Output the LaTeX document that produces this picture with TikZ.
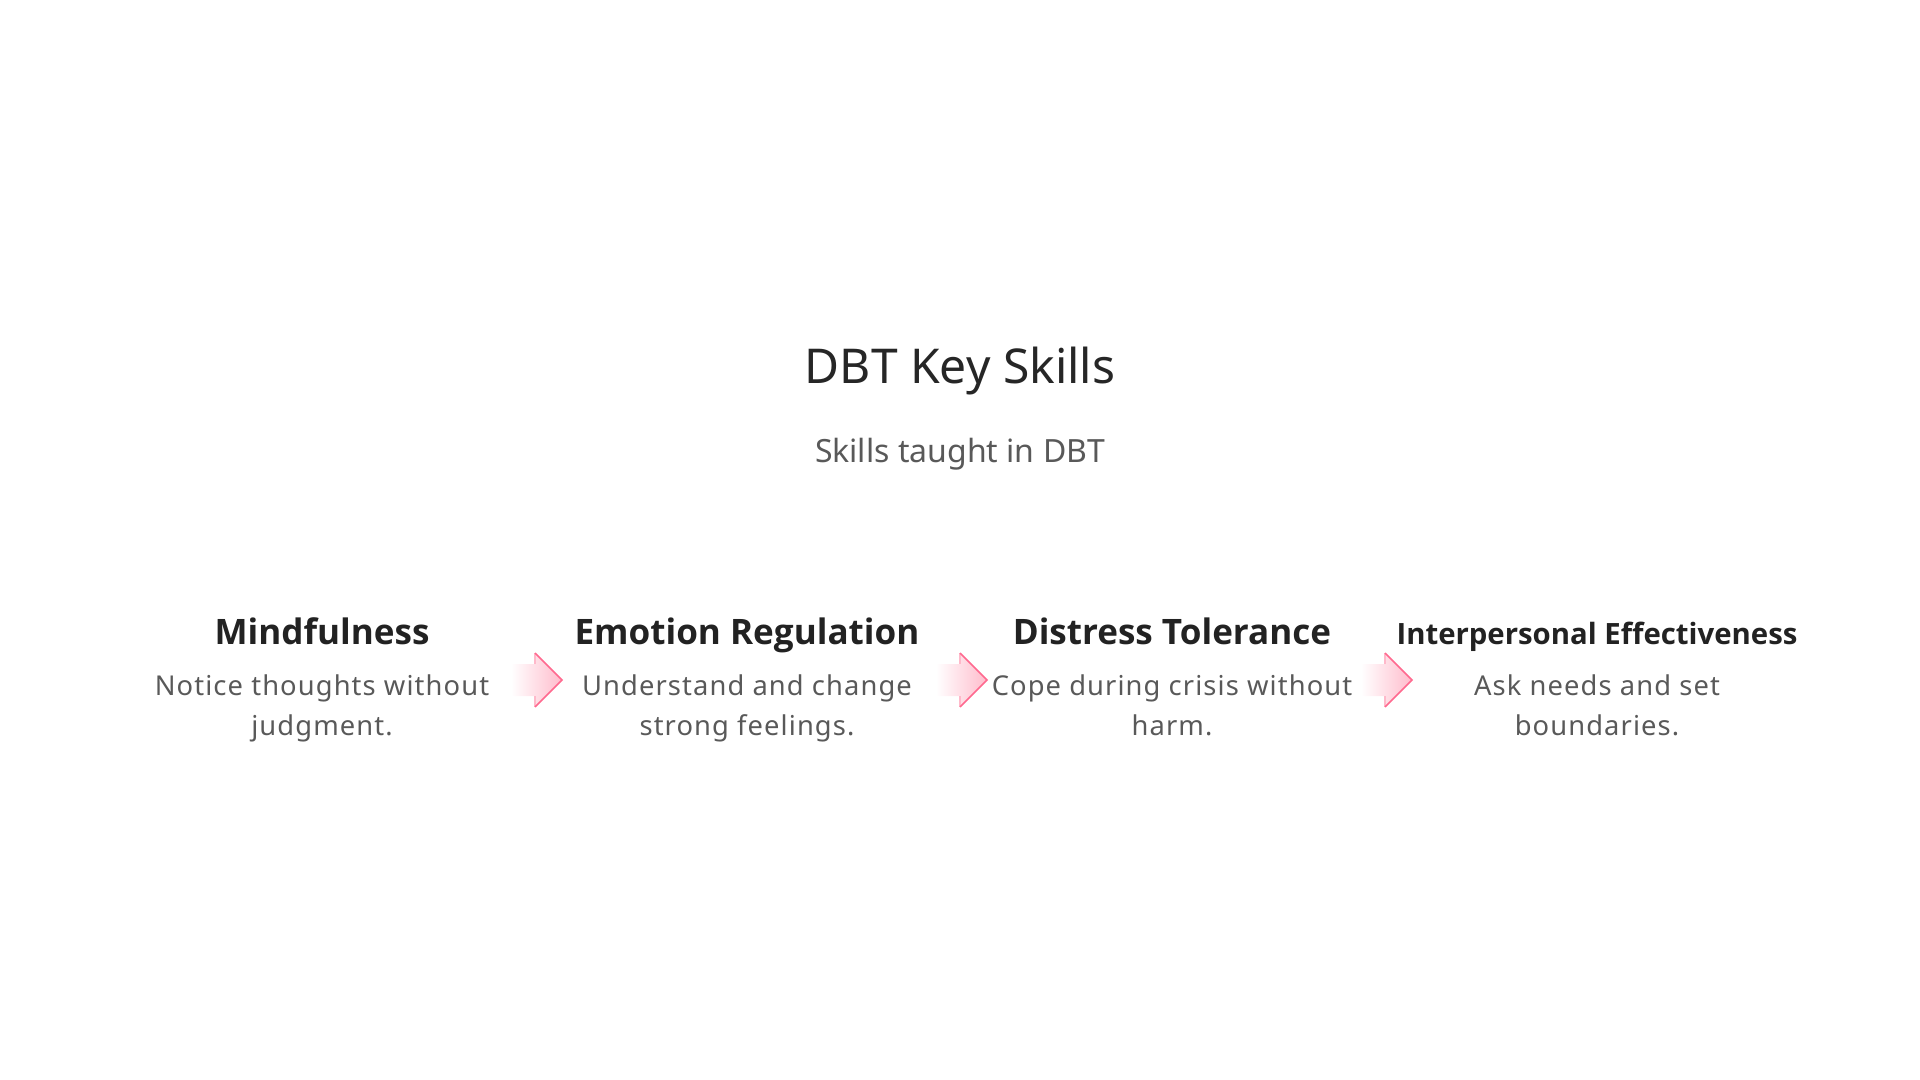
\documentclass[tikz,border=0pt]{standalone}
\usepackage{fontspec}
\setmainfont{Noto Sans}
\newfontfamily\headfont{Open Sans}
\newfontfamily\descfont{Noto Sans}[LetterSpace=4]
\definecolor{titlegray}{HTML}{262626}
\definecolor{subgray}{HTML}{595959}
\definecolor{headgray}{HTML}{222222}
\definecolor{arrowpink}{HTML}{FF4F7B}
\definecolor{arrowfill}{HTML}{FFBCCC}
\tikzset{
  heading/.style={anchor=base, text=headgray, font=\headfont\bfseries\fontsize{26.3}{32}\selectfont, inner sep=0pt},
  smallheading/.style={heading, font=\headfont\bfseries\fontsize{22}{26}\selectfont},
  desc/.style={anchor=base, text=subgray, align=center, font=\descfont\fontsize{20.5}{30}\selectfont, inner sep=0pt},
  pics/pinkarrow/.style={code={
    \shade[left color=white, right color=arrowfill]
      (-24,-16) -- (0,-16) -- (0,-27) -- (27,0) -- (0,27) -- (0,16) -- (-24,16) -- cycle;
    \draw[arrowpink!40, line width=1pt] (0,16) -- (0,27) (0,-16) -- (0,-27);
    \draw[arrowpink!85, line width=1.2pt, line join=miter] (0,-27) -- (27,0) -- (0,27);
  }}
}
\begin{document}
\begin{tikzpicture}[x=0.75pt, y=-0.75pt]
      \useasboundingbox (0,0) rectangle (1920,1080);
      \draw
        (960,383) node[anchor=base, text=titlegray, inner sep=0pt, font=\fontsize{36}{44}\selectfont] (title) {DBT Key Skills}
        (960,462) node[anchor=base, text=subgray, inner sep=0pt, font=\fontsize{24}{30}\selectfont] (sub) {Skills taught in DBT};
      \draw
        (322,644) node[heading] (h1) {Mindfulness}
        (747,644) node[heading] (h2) {Emotion Regulation}
        (1172,644) node[heading] (h3) {Distress Tolerance}
        (1597,644) node[smallheading] (h4) {Interpersonal Effectiveness};
      % last line of each text sits on y = 735
      \draw
        (322,735) node[desc] (d1) {Notice thoughts without\\judgment.}
        (747,735) node[desc] (d2) {Understand and change\\strong feelings.}
        (1172,735) node[desc] (d3) {Cope during crisis without\\harm.}
        (1597,735) node[desc] (d4) {Ask needs and set\\boundaries.};
      \begin{scope}
        \coordinate (a1) at (535,680);
        \coordinate (a2) at (960,680);
        \coordinate (a3) at (1385,680);
        \pic at (a1) {pinkarrow};
        \pic at (a2) {pinkarrow};
        \pic at (a3) {pinkarrow};
      \end{scope}
    \end{tikzpicture}
\end{document}
